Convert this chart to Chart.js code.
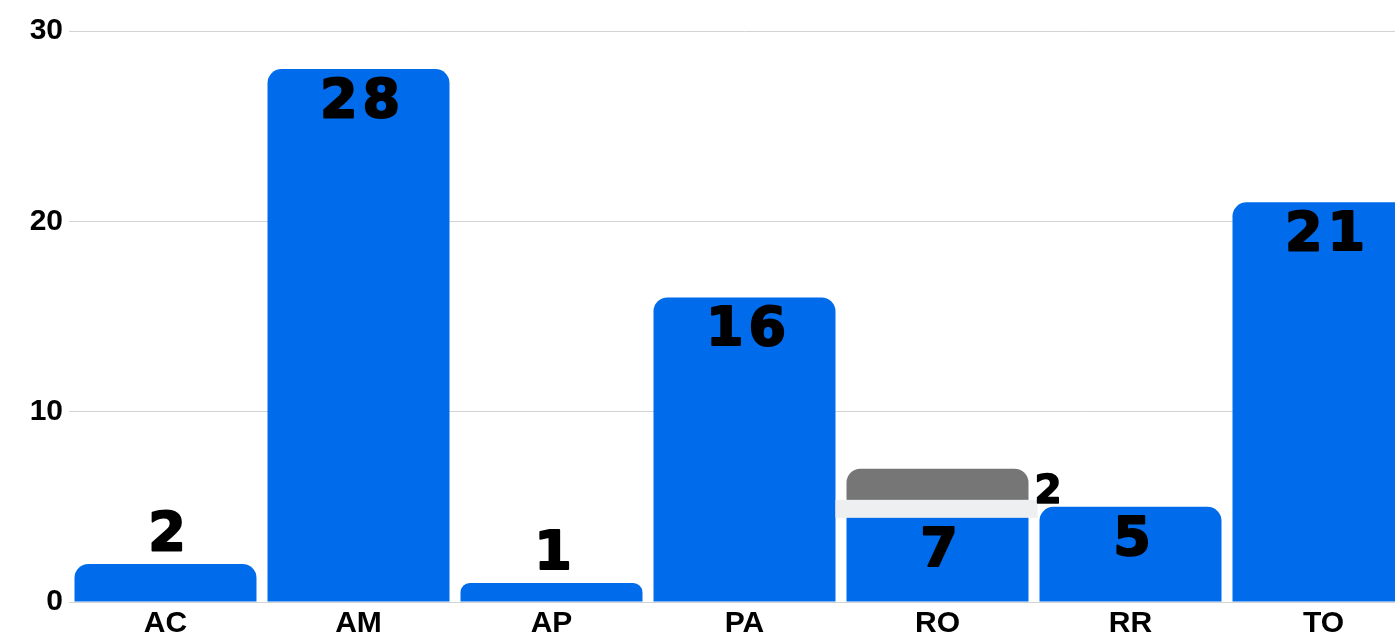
<!DOCTYPE html>
<html>
<head>
<meta charset="utf-8">
<script src="https://cdn.jsdelivr.net/npm/chart.js@4/dist/chart.umd.min.js"></script>
<style>
  html, body { margin: 0; padding: 0; background: #fff; overflow: hidden; }
  #wrap { width: 1420px; height: 635px; }
</style>
</head>
<body>
<div id="wrap"><canvas id="myChart" width="1420" height="635"></canvas></div>
<script>
// states and counts
let states = ['AC', 'AM', 'AP', 'PA', 'RO', 'RR', 'TO'];
let mainValues = [2, 28, 1, 16, 5, 5, 21];
let extraValues = [null, null, null, null, 2, null, null];
let yTicks = [0, 10, 20, 30];

let blue = 'rgb(0, 108, 235)';
let gray = 'rgb(118, 118, 118)';
let band = 'rgb(238, 239, 241)';

function drawText(ctx, txt, x, y) {
  ctx.strokeText(txt, x, y);
  ctx.fillText(txt, x, y);
}

// draws the value labels and the light separator on the stacked bar
let labelPlugin = {
  id: 'labels',
  afterDatasetsDraw(chart) {
    let ctx = chart.ctx;
    let y = chart.scales.y;
    let mainMeta = chart.getDatasetMeta(0);
    let extraMeta = chart.getDatasetMeta(1);
    ctx.save();
    ctx.fillStyle = '#000';
    ctx.strokeStyle = '#000';
    ctx.lineJoin = 'round';

    extraMeta.data.forEach((bar, i) => {
      if (extraValues[i] == null) return;
      // light band where the two parts meet
      let yb = y.getPixelForValue(mainValues[i]);
      let left = bar.x - bar.width / 2 - 11;
      let right = bar.x + bar.width / 2 + 9;
      ctx.fillStyle = band;
      ctx.fillRect(left, yb - 7, right - left, 18);
      ctx.fillStyle = '#000';
      ctx.lineWidth = 1.5;
      ctx.font = 'bold 39px "DejaVu Sans"';
      ctx.textAlign = 'left';
      ctx.textBaseline = 'middle';
      drawText(ctx, String(extraValues[i]), bar.x + bar.width / 2 + 6, (bar.y + yb) / 2 + 5);
    });

    mainMeta.data.forEach((bar, i) => {
      let v = mainValues[i];
      let total = v + (extraValues[i] || 0);
      ctx.lineWidth = 2;
      ctx.font = 'bold 54px "DejaVu Sans"';
      ctx.letterSpacing = '5px';
      ctx.textAlign = 'center';
      ctx.textBaseline = 'middle';
      let ty;
      if (extraValues[i] != null) {
        ty = bar.y + 11 + 34;
      } else if (v < 3) {
        ty = bar.y - 28;
      } else {
        ty = bar.y + 34;
      }
      drawText(ctx, String(total), bar.x + 4, ty);
    });
    ctx.restore();
  }
};

let chart = new Chart(document.getElementById('myChart').getContext('2d'), {
  type: 'bar',
  data: {
    labels: states,
    datasets: [
      {
        data: mainValues,
        backgroundColor: blue,
        borderRadius: (c) => (extraValues[c.dataIndex] != null ? 0 : 14),
        borderSkipped: 'start',
        categoryPercentage: 1,
        barPercentage: 0.943,
      },
      {
        data: extraValues,
        backgroundColor: gray,
        borderRadius: 14,
        borderSkipped: 'start',
        categoryPercentage: 1,
        barPercentage: 0.943,
      },
    ],
  },
  options: {
    responsive: false,
    animation: false,
    events: [],
    layout: { padding: { top: 31, right: 0, left: 0, bottom: 0 } },
    plugins: {
      legend: { display: false },
      tooltip: { enabled: false },
    },
    scales: {
      x: {
        stacked: true,
        grid: { display: false, drawTicks: false },
        border: { display: true, color: '#d3d3d3', width: 1 },
        afterFit: (scale) => {
          scale.height = 33;
        },
        ticks: {
          color: '#000',
          padding: 7,
          font: { family: '"Liberation Sans"', size: 30, weight: 'bold', lineHeight: 1 },
        },
      },
      y: {
        stacked: true,
        min: 0,
        max: 30,
        afterBuildTicks: (scale) => {
          scale.ticks = yTicks.map((v) => ({ value: v }));
        },
        afterFit: (scale) => {
          scale.width = 69;
        },
        grid: { color: '#d3d3d3', lineWidth: 1, drawTicks: false },
        border: { display: false },
        ticks: {
          color: '#000',
          padding: 6,
          font: { family: '"Liberation Sans"', size: 30, weight: 'bold' },
        },
      },
    },
  },
  plugins: [labelPlugin],
});
</script>
</body>
</html>
